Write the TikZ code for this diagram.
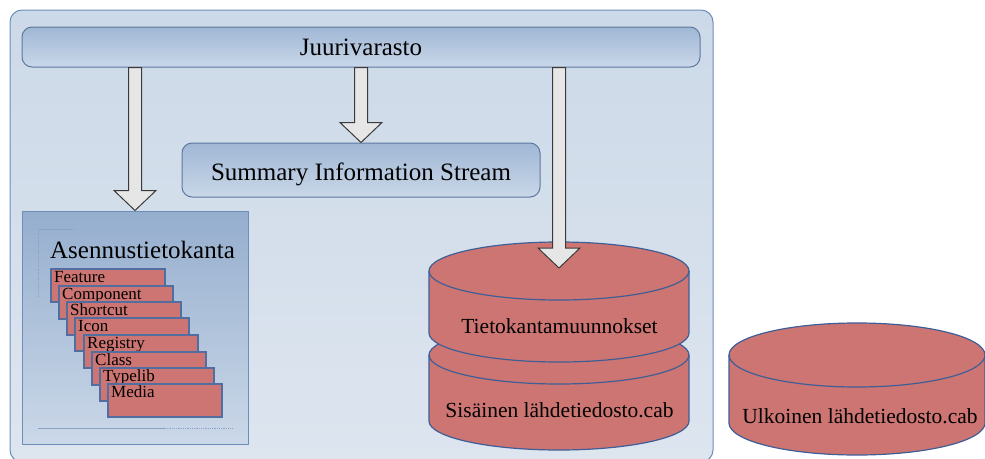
\documentclass[tikz,border=0pt]{standalone}
\usepackage{fontspec}
\setmainfont{Liberation Serif}
\usetikzlibrary{calc}

\definecolor{frameblue}{HTML}{6E8EBA}
\definecolor{panelTop}{HTML}{CCD9E8}
\definecolor{panelBot}{HTML}{DDE5EF}
\definecolor{barTop}{HTML}{A0B7D5}
\definecolor{barBot}{HTML}{C9D7E8}
\definecolor{boxTop}{HTML}{95AECE}
\definecolor{boxBot}{HTML}{CBD8E8}
\definecolor{redfill}{HTML}{CD7572}
\definecolor{edgeblue}{HTML}{3F5E96}
\definecolor{arrowfill}{HTML}{E6E6E6}
\definecolor{arrowedge}{HTML}{3A3A3A}
\definecolor{guideline}{HTML}{8AA2C3}

\tikzset{
  panel/.style={draw=frameblue, line width=1pt, rounded corners=12pt,
    top color=panelTop, bottom color=panelBot},
  bar/.style={draw=frameblue!85!black, line width=1pt, rounded corners=10pt,
    top color=barTop, bottom color=barBot, inner sep=0pt},
  dbbox/.style={draw=frameblue, line width=1pt,
    top color=boxTop, bottom color=boxBot, inner sep=0pt},
  tab/.style={draw=edgeblue!90, fill=redfill, line width=1.7pt,
    minimum width=114pt, minimum height=33pt, inner sep=0pt, anchor=north west},
  tablabel/.style={anchor=base west, inner sep=0pt,
    font=\fontsize{17}{20}\selectfont},
  bigtext/.style={inner sep=0pt, font=\fontsize{25}{30}\selectfont},
  drumtext/.style={inner sep=0pt, anchor=base, font=\fontsize{21.5}{26}\selectfont},
  drumbody/.style={fill=redfill, draw=edgeblue, line width=1.2pt},
  blk/.style={fill=arrowfill, draw=arrowedge, line width=1pt, line join=miter},
}

% hollow block arrow from #1 down to the tip #2
\newcommand\blockarrow[2]{%
  \draw[blk] let \p1=(#1), \p2=(#2) in
    (\x1-6.5pt,\y1) -- (\x1-6.5pt,\y2+20pt) -- (\x1-21pt,\y2+20pt) --
    (\x2,\y2) -- (\x1+21pt,\y2+20pt) -- (\x1+6.5pt,\y2+20pt) --
    (\x1+6.5pt,\y1) -- cycle;}

% upright drum: centre x, top-ellipse y, bottom-ellipse y, x radius, y radius
\newcommand\drum[5]{%
  \filldraw[drumbody] (#1-#4,#2) -- (#1-#4,#3)
    arc[start angle=180, end angle=0, x radius=#4, y radius=#5]
    -- (#1+#4,#2)
    arc[start angle=0, end angle=-180, x radius=#4, y radius=#5] -- cycle;
  \draw[drumbody, fill=none] (#1-#4,#2)
    arc[start angle=180, end angle=0, x radius=#4, y radius=#5];}

\begin{document}
\begin{tikzpicture}[x=1pt, y=-1pt]
  \useasboundingbox (0,0) rectangle (985,458);

  % outer package frame
  \path[panel] (10,10) rectangle (713,462);

  % root storage bar
  \node[bar, minimum width=678pt, minimum height=40pt] (root) at (361,47) {};
  \node[bigtext, anchor=base] (rootlbl) at (361,55) {Juurivarasto};

  % summary information stream
  \node[bar, minimum width=358pt, minimum height=54pt] (sis) at (361,170) {};
  \node[bigtext, anchor=base] (sislbl) at (361,180) {Summary Information Stream};

  % installation database box
  \node[dbbox, minimum width=226pt, minimum height=233pt] (asen) at (135,327.5) {};
  \draw[guideline, line width=0.8pt] (73,229) -- (38,229);
  \draw[guideline, line width=0.8pt, densely dotted] (38,229) -- (38,297);
  \draw[guideline, line width=0.8pt] (38,428) -- (165,428);
  \draw[guideline, line width=0.8pt, densely dotted] (165,428) -- (232,428);
  \node[bigtext, anchor=base] (asenlbl) at (142.5,258) {Asennustietokanta};

  % stacked tables
  \foreach \nm/\lx/\ty in {Feature/50/268, Component/58/285, Shortcut/66/301,
      Icon/74/317, Registry/83/334, Class/91/351, Typelib/99/367, Media/107/383} {
    \node[tab] (t\nm) at (\lx,\ty) {};
    \node[tablabel] (l\nm) at ($(t\nm.north west)+(4,14)$) {\nm};
  }

  % database transforms on top of the internal cabinet
  \drum{559}{355}{421}{130}{29}
  \drum{559}{271}{333}{130}{29}
  \node[drumtext] (transf) at (559.5,333) {Tietokantamuunnokset};
  \node[drumtext] (intcab) at (559.5,417) {Sisäinen lähdetiedosto.cab};
  \coordinate (dbtip) at (559,268);

  % external cabinet
  \drum{857}{355}{423}{128}{32}
  \node[drumtext] (extcab) at (860,423) {Ulkoinen lähdetiedosto.cab};

  % flows out of the root storage
  \blockarrow{root.south -| asen.north}{asen.north}
  \blockarrow{root.south -| sis.north}{sis.north}
  \blockarrow{root.south -| dbtip}{dbtip}
\end{tikzpicture}
\end{document}
